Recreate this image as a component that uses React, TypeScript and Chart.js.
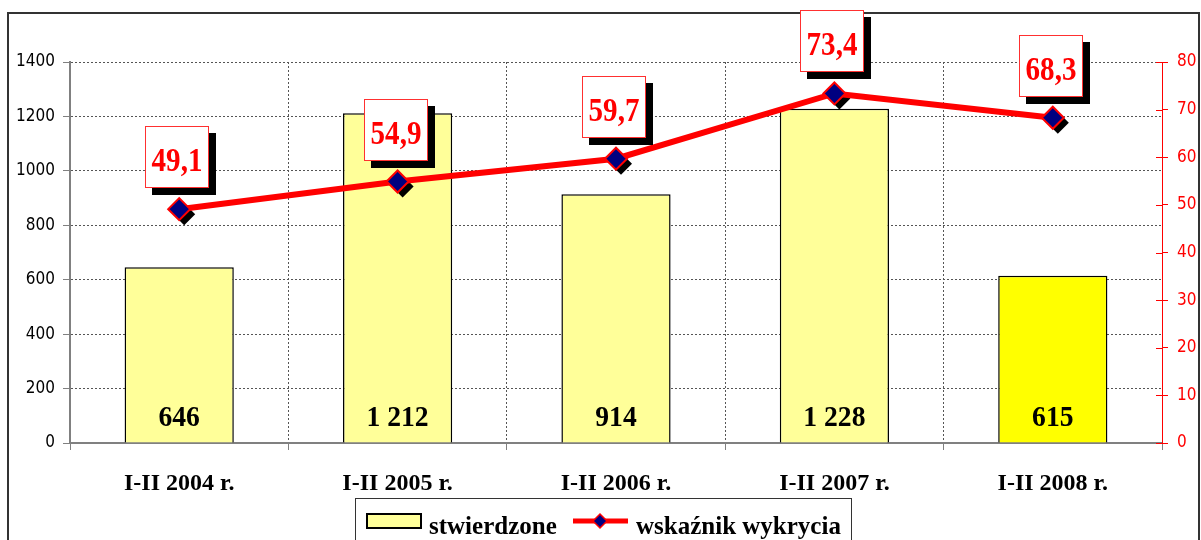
import React, { useEffect, useRef } from 'react';
import { Chart, registerables } from 'chart.js';

Chart.register(...registerables);

const categories = ['I-II 2004 r.', 'I-II 2005 r.', 'I-II 2006 r.', 'I-II 2007 r.', 'I-II 2008 r.'];
const stwierdzone = [646, 1212, 914, 1228, 615];
const wskaznik = [49.1, 54.9, 59.7, 73.4, 68.3];
const barColors = ['#FFFF99', '#FFFF99', '#FFFF99', '#FFFF99', '#FFFF00'];
const legendLabels = ['stwierdzone', 'wskaźnik wykrycia'];
const leftAxis = { min: 0, max: 1400, step: 200 };
const rightAxis = { min: 0, max: 80, step: 10 };

const SERIF = '"Liberation Serif", "DejaVu Serif", serif';
const SANS = '"DejaVu Sans Condensed", "DejaVu Sans", sans-serif';

const fmtCount = (v: number) =>
  v >= 1000 ? `${Math.floor(v / 1000)} ${String(v % 1000).padStart(3, '0')}` : String(v);
const fmtRate = (v: number) => v.toFixed(1).replace('.', ',');

function diamond(ctx: CanvasRenderingContext2D, x: number, y: number, r: number) {
  ctx.beginPath();
  ctx.moveTo(x - r, y);
  ctx.lineTo(x, y - r);
  ctx.lineTo(x + r, y);
  ctx.lineTo(x, y + r);
  ctx.closePath();
}

function narrowText(ctx: CanvasRenderingContext2D, text: string, x: number, y: number, sx: number) {
  ctx.save();
  ctx.translate(x, y);
  ctx.scale(sx, 1);
  ctx.fillText(text, 0, 0);
  ctx.restore();
}

const framePlugin = {
  id: 'frame',
  beforeDraw(chart: any) {
    const ctx = chart.ctx;
    ctx.save();
    ctx.fillStyle = '#ffffff';
    ctx.fillRect(0, 0, chart.width, chart.height);
    ctx.strokeStyle = '#333333';
    ctx.lineWidth = 2;
    ctx.strokeRect(8, 13, 1191, 580);
    ctx.restore();
  },
};

const shadowPlugin = {
  id: 'pointShadow',
  beforeDatasetDraw(chart: any, args: any) {
    if (args.index !== 1) return;
    const ctx = chart.ctx;
    const meta = chart.getDatasetMeta(1);
    ctx.save();
    ctx.fillStyle = '#000000';
    meta.data.forEach((p: any) => {
      diamond(ctx, p.x + 5, p.y + 5, 11);
      ctx.fill();
    });
    ctx.restore();
  },
};

const labelsPlugin = {
  id: 'valueLabels',
  afterDatasetsDraw(chart: any) {
    const ctx = chart.ctx;
    ctx.save();
    const barMeta = chart.getDatasetMeta(0);
    const y0 = chart.scales.y.getPixelForValue(0);
    ctx.fillStyle = '#000000';
    ctx.font = `bold 30px ${SERIF}`;
    ctx.textAlign = 'center';
    ctx.textBaseline = 'alphabetic';
    barMeta.data.forEach((b: any, i: number) => {
      narrowText(ctx, fmtCount(stwierdzone[i]), b.x, y0 - 17, 0.92);
    });
    const lineMeta = chart.getDatasetMeta(1);
    lineMeta.data.forEach((p: any, i: number) => {
      const w = 64;
      const h = 62;
      const cx = p.x - 2;
      const bx = Math.round(cx - w / 2);
      const by = Math.round(p.y - 21 - h);
      ctx.fillStyle = '#000000';
      ctx.fillRect(bx + 7, by + 7, w, h);
      ctx.fillStyle = '#ffffff';
      ctx.fillRect(bx, by, w, h);
      ctx.strokeStyle = '#ff3030';
      ctx.lineWidth = 1;
      ctx.strokeRect(bx + 0.5, by + 0.5, w - 1, h - 1);
      ctx.fillStyle = '#ff0000';
      ctx.font = `bold 33px ${SERIF}`;
      ctx.textAlign = 'center';
      narrowText(ctx, fmtRate(wskaznik[i]), bx + w / 2, by + 45, 0.88);
    });
    ctx.restore();
  },
};

const extrasPlugin = {
  id: 'extras',
  afterDraw(chart: any) {
    const ctx = chart.ctx;
    ctx.save();
    const s = chart.scales.y1;
    ctx.strokeStyle = '#ff0000';
    ctx.lineWidth = 1;
    s.ticks.forEach((t: any) => {
      const y = Math.round(s.getPixelForValue(t.value)) + 0.5;
      ctx.beginPath();
      ctx.moveTo(s.left - 6, y);
      ctx.lineTo(s.left, y);
      ctx.stroke();
    });
    // legend
    ctx.fillStyle = '#ffffff';
    ctx.fillRect(355, 498, 496, 60);
    ctx.strokeStyle = '#333333';
    ctx.lineWidth = 1;
    ctx.strokeRect(355.5, 498.5, 496, 60);
    ctx.fillStyle = barColors[0];
    ctx.fillRect(367, 514, 54, 14);
    ctx.strokeStyle = '#000000';
    ctx.lineWidth = 2;
    ctx.strokeRect(367, 514, 54, 14);
    ctx.fillStyle = '#000000';
    ctx.font = `bold 25px ${SERIF}`;
    ctx.textAlign = 'left';
    ctx.textBaseline = 'alphabetic';
    ctx.fillText(legendLabels[0], 429, 534);
    ctx.strokeStyle = '#ff0000';
    ctx.lineWidth = 5;
    ctx.beginPath();
    ctx.moveTo(573, 521);
    ctx.lineTo(628, 521);
    ctx.stroke();
    diamond(ctx, 600, 521, 7);
    ctx.fillStyle = '#000080';
    ctx.fill();
    ctx.strokeStyle = '#ff0000';
    ctx.lineWidth = 1.5;
    ctx.stroke();
    ctx.fillStyle = '#000000';
    ctx.fillText(legendLabels[1], 636, 534);
    ctx.restore();
  },
};

export default function App() {
  const ref = useRef<HTMLCanvasElement>(null);
  useEffect(() => {
    if (!ref.current) return;
    const chart = new Chart(ref.current, {
      type: 'bar',
      data: {
        labels: categories,
        datasets: [
          {
            type: 'bar',
            label: legendLabels[0],
            data: stwierdzone,
            backgroundColor: barColors,
            borderColor: '#000000',
            borderWidth: 1.5,
            barPercentage: 0.5,
            categoryPercentage: 1,
            yAxisID: 'y',
            order: 2,
          },
          {
            type: 'line',
            label: legendLabels[1],
            data: wskaznik,
            borderColor: '#ff0000',
            borderWidth: 6,
            pointStyle: 'rectRot',
            pointRadius: 11,
            pointBackgroundColor: '#000080',
            pointBorderColor: '#ff0000',
            pointBorderWidth: 2,
            tension: 0,
            yAxisID: 'y1',
            order: 1,
          } as any,
        ],
      },
      options: {
        responsive: false,
        animation: false,
        devicePixelRatio: 1,
        layout: { padding: { left: 0, right: 0, top: 62, bottom: 0 } },
        plugins: { legend: { display: false }, tooltip: { enabled: false } },
        scales: {
          x: {
            offset: true,
            grid: {
              offset: true,
              color: '#555555',
              lineWidth: 1,
              tickLength: 7,
              tickColor: '#808080',
            },
            border: { color: '#808080', width: 2, dash: [2, 2] },
            ticks: {
              color: '#000000',
              font: { family: SERIF, size: 24, weight: 'bold' },
              padding: 19,
            },
            afterFit(scale: any) {
              scale.height = 97;
            },
          },
          y: {
            position: 'left',
            min: leftAxis.min,
            max: leftAxis.max,
            ticks: {
              stepSize: leftAxis.step,
              color: '#000000',
              font: { family: SANS, size: 17 },
              padding: 8,
              callback: (v: any) => String(v),
            },
            grid: {
              color: '#555555',
              lineWidth: 1,
              tickLength: 7,
              tickColor: '#808080',
            },
            border: { color: '#808080', width: 2, dash: [2, 2] },
            afterFit(scale: any) {
              scale.width = 70;
            },
          },
          y1: {
            position: 'right',
            min: rightAxis.min,
            max: rightAxis.max,
            ticks: {
              stepSize: rightAxis.step,
              color: '#ff0000',
              font: { family: SANS, size: 17 },
              padding: 9,
              callback: (v: any) => String(v),
            },
            grid: {
              drawOnChartArea: false,
              color: '#ff0000',
              tickLength: 6,
            },
            border: { color: '#ff0000', width: 1 },
            afterFit(scale: any) {
              scale.width = 39;
            },
          },
        },
      } as any,
      plugins: [framePlugin, shadowPlugin, labelsPlugin, extrasPlugin],
    });
    return () => chart.destroy();
  }, []);
  return (
    <div style={{ position: 'absolute', left: 0, top: 0, width: 1201, height: 540 }}>
      <canvas ref={ref} width={1201} height={540} />
    </div>
  );
}
